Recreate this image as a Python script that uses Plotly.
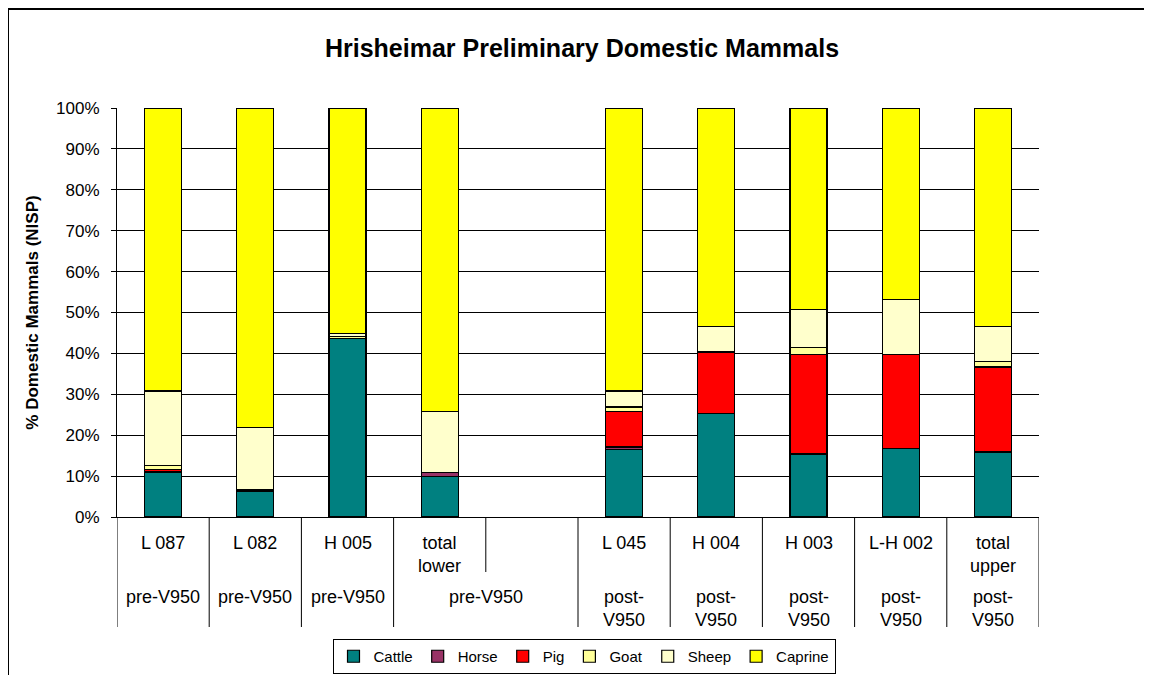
import plotly.graph_objects as go

categories = ["L 087", "L 082", "H 005", "total<br>lower", "", "L 045", "H 004", "H 003", "L-H 002", "total<br>upper"]
periods = ["pre-V950", "pre-V950", "pre-V950", "pre-V950", "", "post-V950", "post-V950", "post-V950", "post-V950", "post-V950"]

series_names = ["Cattle", "Horse", "Pig", "Goat", "Sheep", "Caprine"]
cattle  = [10.8, 6.2, 43.6, 9.9, None, 16.5, 25.3, 15.2, 16.7, 15.9]
horse   = [0.3, 0.4, 0.0, 1.0, None, 0.6, 0.0, 0.4, 0.0, 0.2]
pig     = [0.6, 0.0, 0.0, 0.0, None, 8.6, 14.9, 24.2, 23.1, 20.6]
goat    = [0.9, 0.0, 0.5, 0.0, None, 1.2, 0.2, 1.6, 0.0, 1.3]
sheep   = [18.2, 15.2, 0.8, 14.8, None, 3.9, 6.1, 9.4, 13.3, 8.5]
caprine = [69.2, 78.2, 55.1, 74.3, None, 69.2, 53.5, 49.2, 46.9, 53.5]
colors = ["#008080", "#993366", "#FF0000", "#FFFF99", "#FFFFCC", "#FFFF00"]

FONT = "Arial, Liberation Sans, sans-serif"
W, H = 1144, 667           # page has an 8px body margin
ML, MT, PW, PH = 109, 100, 922, 409


def px_x(X):  # page pixel -> paper x
    return (X - 8 - ML) / PW


def px_y(Y):  # page pixel -> paper y
    return (MT + PH - (Y - 8)) / PH


def cx(X):  # page pixel -> container x
    return (X - 8) / W


def cy(Y):  # page pixel -> container y
    return 1 - (Y - 8) / H


xs = list(range(len(categories)))

fig = go.Figure()
for name, vals, col in zip(series_names, [cattle, horse, pig, goat, sheep, caprine], colors):
    fig.add_trace(go.Bar(x=xs, y=vals, name=name, width=0.4,
                         marker=dict(color=col, line=dict(color="black", width=1.2))))

lab_font = dict(size=18, color="black", family=FONT)
annotations = []
for i, c in enumerate(categories):
    if c:
        annotations.append(dict(x=i, y=px_y(531), xref="x", yref="paper", text=c,
                                showarrow=False, yanchor="top", font=lab_font))
# period groups (blank categories join the preceding group)
i = 0
n = len(categories)
while i < n:
    j = i
    while j + 1 < n and categories[j + 1] == "":
        j += 1
    lab = periods[i]
    if j == i and len(lab) > 8:
        lab = lab.replace("-", "-<br>")
    annotations.append(dict(x=(i + j) / 2, y=px_y(585), xref="x", yref="paper", text=lab,
                            showarrow=False, yanchor="top", font=lab_font))
    i = j + 1

shapes = []
for b in range(n + 1):
    x = b - 0.5
    short = 0 < b < n and categories[b] == "" and categories[b - 1] != ""
    y1 = px_y(572) if short else px_y(627)
    shapes.append(dict(type="line", xref="x", yref="paper", x0=x, x1=x, y0=0, y1=y1,
                       line=dict(color="black", width=1)))
# outer frame
shapes.append(dict(type="rect", xref="paper", yref="paper", x0=px_x(8), x1=px_x(1170),
                   y0=px_y(700), y1=px_y(9), line=dict(color="black", width=2), layer="below"))

fig.update_layout(
    width=W, height=H,
    margin=dict(l=ML, r=W - ML - PW, t=MT, b=H - MT - PH),
    paper_bgcolor="white", plot_bgcolor="white",
    barmode="stack", barnorm="percent",
    font=dict(family=FONT, color="black", size=17),
    title=dict(text="<b>Hrisheimar Preliminary Domestic Mammals</b>", x=cx(582), xref="container",
               xanchor="center", y=cy(48), yref="container", yanchor="middle",
               font=dict(size=25, family=FONT, color="black")),
    showlegend=True,
    legend=dict(orientation="h", x=cx(584), xref="container", xanchor="center",
                y=cy(639), yref="container", yanchor="top",
                traceorder="normal", bordercolor="black", borderwidth=1,
                font=dict(size=15, family=FONT, color="black"), itemclick=False),
    annotations=annotations, shapes=shapes,
)
fig.update_xaxes(range=[-0.5, n - 0.5], showticklabels=False, ticks="", showgrid=False,
                 showline=True, linecolor="black", linewidth=1, zeroline=False, automargin=False)
fig.update_yaxes(range=[0, 100], dtick=10, ticksuffix="%", showgrid=True, gridcolor="black", gridwidth=1,
                 ticks="outside", ticklen=5, tickcolor="black", ticklabelstandoff=8,
                 showline=True, linecolor="black", automargin=False,
                 linewidth=1, zeroline=False, tickfont=dict(size=17, family=FONT, color="black"),
                 title=dict(text="<b>% Domestic Mammals (NISP)</b>", standoff=13,
                            font=dict(size=17, family=FONT, color="black")))

fig.write_html("out.html")
